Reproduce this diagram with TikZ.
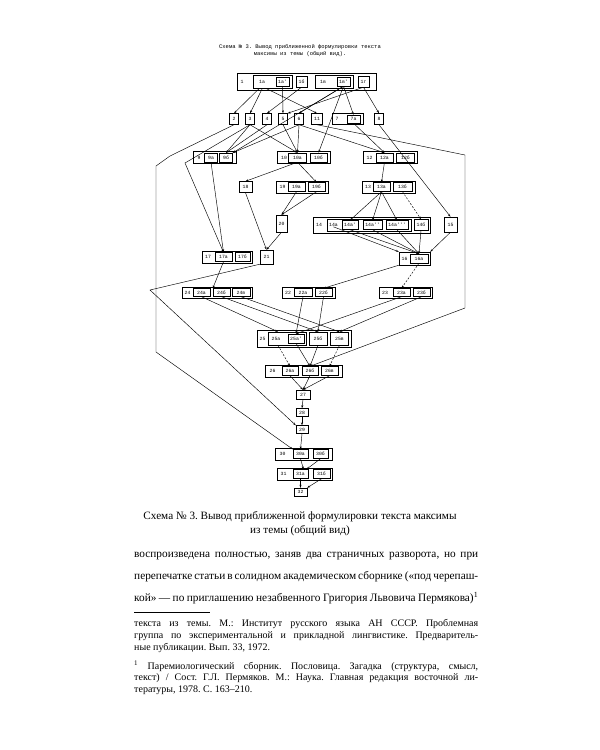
\documentclass[tikz,border=0pt]{standalone}
\usepackage{fontspec}
\setmainfont{Liberation Serif}
\newfontfamily\tw{Liberation Mono}
\usetikzlibrary{arrows.meta}
\newcommand\lab{\tw\fontsize{4.8}{5}\selectfont}
\frenchspacing
\begin{document}
\begin{tikzpicture}[x=1pt,y=-1pt,line width=0.45pt,
  sb/.style={draw, inner sep=0pt, font=\lab, minimum height=9pt},
  ob/.style={draw, inner sep=0pt, minimum height=12pt},
  lb/.style={inner sep=0pt, font=\lab},
  ar/.style={-{Stealth[length=3pt,width=2pt]}},
  dsh/.style={dash pattern=on 2pt off 1.5pt},
  body/.style={anchor=west, inner sep=0pt, font=\fontsize{11.3}{13}\selectfont},
  foot/.style={anchor=west, inner sep=0pt, font=\fontsize{10}{11}\selectfont}]
\useasboundingbox (0,0) rectangle (600,750);
\fill[white] (0,0) rectangle (600,750);

% header
\node[font=\tw\fontsize{5.5}{7}\selectfont, align=center, inner sep=0pt] (hdr) at (300,50.5)
  {Схема № 3. Вывод приближенной формулировки текста\\максимы из темы (общий вид).};

% box 1
\node[ob, minimum width=139pt, minimum height=17pt] (n1) at (306.5,81.5) {};
\node[lb] (l1) at (242,81.5) {1};
\node[sb, minimum width=39pt, minimum height=13pt] (n1a) at (272.5,81.5) {};
\node[lb] (l1a) at (262,81.5) {1а};
\node[sb, minimum width=13pt] (n1ap) at (282.5,81.5) {1а'};
\node[sb, minimum width=11pt, minimum height=11pt] (n1b) at (301.5,81.5) {1б};
\node[sb, minimum width=38pt, minimum height=13pt] (n1v) at (334,81.5) {};
\node[lb] (l1v) at (323,81.5) {1в};
\node[sb, minimum width=13pt] (n1vp) at (343.5,81.5) {1в'};
\node[sb, minimum width=11pt, minimum height=11pt] (n1g) at (363.5,81.5) {1г};

% row 2
\node[sb, minimum width=9pt, minimum height=11pt] (n2) at (234,119) {2};
\node[sb, minimum width=9pt, minimum height=11pt] (n3) at (250,119) {3};
\node[sb, minimum width=9pt, minimum height=11pt] (n4) at (267,119) {4};
\node[sb, minimum width=9pt, minimum height=11pt] (n5) at (283,119) {5};
\node[sb, minimum width=9pt, minimum height=11pt] (n6) at (299,119) {6};
\node[sb, minimum width=11pt, minimum height=11pt] (n11) at (317,119) {11};
\node[sb, minimum width=31pt, minimum height=11pt] (n7) at (347.5,119) {};
\node[lb] (l7) at (337,119) {7};
\node[sb, minimum width=13pt, minimum height=8pt] (n7a) at (353.5,119) {7а};
\node[sb, minimum width=9pt, minimum height=11pt] (n8) at (379,119) {8};

% row 3
\node[ob, minimum width=43pt] (n9) at (214.5,157.5) {};
\node[lb] (l9) at (199,157.5) {9};
\node[sb, minimum width=13pt] (n9a) at (211,157.5) {9а};
\node[sb, minimum width=13pt] (n9b) at (226,157.5) {9б};
\node[ob, minimum width=53pt] (n10) at (303.5,157.5) {};
\node[lb] (l10) at (284,157.5) {10};
\node[sb, minimum width=18pt] (n10a) at (297.5,157.5) {10а};
\node[sb, minimum width=17pt] (n10b) at (318.5,157.5) {10б};
\node[ob, minimum width=54pt] (n12) at (390,157.5) {};
\node[lb] (l12) at (369.5,157.5) {12};
\node[sb, minimum width=17pt] (n12a) at (384.5,157.5) {12а};
\node[sb, minimum width=18pt] (n12b) at (405.5,157.5) {12б};

% row 4
\node[sb, minimum width=13pt, minimum height=11pt] (n18) at (245.5,187) {18};
\node[ob, minimum width=52pt] (n19) at (302,187) {};
\node[lb] (l19) at (282.5,187) {19};
\node[sb, minimum width=17pt] (n19a) at (296.5,187) {19а};
\node[sb, minimum width=17pt] (n19b) at (316.5,187) {19б};
\node[ob, minimum width=53pt] (n13) at (388.5,187) {};
\node[lb] (l13) at (368,187) {13};
\node[sb, minimum width=17pt] (n13a) at (381.5,187) {13а};
\node[sb, minimum width=19pt] (n13b) at (402.5,187) {13б};

% row 5
\node[sb, minimum width=11pt, minimum height=17pt] (n20) at (281.5,223.5) {20};
\node[ob, minimum width=117pt, minimum height=16pt] (n14) at (371.5,225) {};
\node[lb] (l14) at (319,225) {14};
\node[sb, minimum width=84pt, minimum height=12pt] (n14grp) at (369,225) {};
\node[lb] (l14a) at (333.5,225) {14а};
\node[sb, minimum width=16pt] (n14a1) at (350,225) {14а'};
\node[sb, minimum width=19pt] (n14a2) at (372.5,225) {14а''};
\node[sb, minimum width=22pt] (n14a3) at (397,225) {14а'''};
\node[sb, minimum width=14pt, minimum height=11pt] (n14b) at (421,225) {14б};
\node[sb, minimum width=13pt, minimum height=15pt] (n15) at (450.5,224.5) {15};

% row 6
\node[ob, minimum width=50pt] (n17) at (227,257) {};
\node[lb] (l17) at (208,257) {17};
\node[sb, minimum width=17pt] (n17a) at (223.5,257) {17а};
\node[sb, minimum width=15pt] (n17b) at (242.5,257) {17б};
\node[sb, minimum width=13pt, minimum height=14pt] (n21) at (266.5,257) {21};
\node[ob, minimum width=31pt, minimum height=13pt] (n16) at (414.5,258.5) {};
\node[lb] (l16) at (404.5,258.5) {16};
\node[sb, minimum width=18pt] (n16a) at (419,258.5) {16а};

% row 7
\node[ob, minimum width=70pt, minimum height=11pt] (n24) at (217,292.5) {};
\node[lb] (l24) at (187.5,292.5) {24};
\node[sb, minimum width=17pt, minimum height=8pt] (n24a) at (201.5,292.5) {24а};
\node[sb, minimum width=17pt, minimum height=8pt] (n24b) at (221.5,292.5) {24б};
\node[sb, minimum width=18pt, minimum height=8pt] (n24c) at (241,292.5) {24в};
\node[ob, minimum width=53pt, minimum height=11pt] (n22) at (308.5,292.5) {};
\node[lb] (l22) at (288,292.5) {22};
\node[sb, minimum width=18pt, minimum height=8pt] (n22a) at (303,292.5) {22а};
\node[sb, minimum width=17pt, minimum height=8pt] (n22b) at (323.5,292.5) {22б};
\node[ob, minimum width=53pt, minimum height=11pt] (n23) at (405.5,292.5) {};
\node[lb] (l23) at (385,292.5) {23};
\node[sb, minimum width=17pt, minimum height=8pt] (n23a) at (401.5,292.5) {23а};
\node[sb, minimum width=17pt, minimum height=8pt] (n23b) at (421.5,292.5) {23б};

% row 8
\node[ob, minimum width=94pt, minimum height=17pt] (n25) at (304,338.5) {};
\node[lb] (l25) at (262.5,338.5) {25};
\node[sb, minimum width=38pt, minimum height=13pt] (n25a) at (287,338.5) {};
\node[lb] (l25a) at (276,338.5) {25а};
\node[sb, minimum width=16pt] (n25ap) at (296,338.5) {25а'};
\node[sb, minimum width=18pt, minimum height=13pt] (n25b) at (318,338.5) {25б};
\node[sb, minimum width=18pt, minimum height=13pt] (n25v) at (339.5,338.5) {25в};

% row 9
\node[ob, minimum width=77pt] (n26) at (303.5,371) {};
\node[lb] (l26) at (272.5,371) {26};
\node[sb, minimum width=16pt] (n26a) at (290,371) {26а};
\node[sb, minimum width=16pt] (n26b) at (310,371) {26б};
\node[sb, minimum width=17pt] (n26c) at (329.5,371) {26в};

\node[sb, minimum width=14pt] (n27) at (303,394.5) {27};
\node[sb, minimum width=12pt, minimum height=8pt] (n28) at (302,412.5) {28};
\node[sb, minimum width=12pt, minimum height=8pt] (n29) at (302,429.5) {29};
\node[ob, minimum width=57pt] (n30) at (303.5,454) {};
\node[lb] (l30) at (282.5,454) {30};
\node[sb, minimum width=15pt] (n30a) at (300.5,454) {30а};
\node[sb, minimum width=15pt] (n30b) at (320.5,454) {30б};
\node[ob, minimum width=55pt] (n31) at (304.5,474) {};
\node[lb] (l31) at (283.5,474) {31};
\node[sb, minimum width=15pt] (n31a) at (300.5,474) {31а};
\node[sb, minimum width=17pt] (n31b) at (321.5,474) {31б};
\node[sb, minimum width=13pt, minimum height=8pt] (n32) at (300.5,492) {32};

% bend points
\coordinate (b2a) at (170,156);
\coordinate (b2b) at (156,166);
\coordinate (b2c) at (156,352);
\coordinate (b3) at (185,163);
\coordinate (b11a) at (465,155);
\coordinate (b11b) at (465,308);
\coordinate (b21) at (150,290);

% edges: box 1 -> row 2
\draw[ar] ([xshift=-13pt]n1a.south) -- (n2.north);
\draw[ar] ([xshift=-10pt]n1a.south) -- (n3.north);
\draw[ar] ([xshift=-7pt]n1a.south) -- (n11.north);
\draw[ar] (n1ap.south) -- (n5.north);
\draw[ar] (n1b.south) -- (n4.north);
\draw[ar] (n1vp.south) -- (n6.north);
\draw[ar] (n1vp.south) -- (n7a.north);
\draw[ar] (n1vp.south) -- (n9b.north east);
\draw[ar] (n1vp.south) -- (n10b.north);
\draw[ar] (n1g.south) -- (n5.north east);
\draw[ar] (n1g.south) -- (n8.north);
% row 2 -> row 3 and beyond
\draw[ar] (n2.south) -- (b2a) -- (b2b) -- (b2c) -- (n30a.north west);
\draw[ar] (n3.south) -- (b3) -- (n17a.north);
\draw[ar] (n3.south) -- (n9b.north);
\draw[ar] (n4.south) -- (n9b.north);
\draw[ar] (n6.south) -- (n9b.north east);
\draw[ar] (n3.south) -- (n10a.north);
\draw[ar] (n5.south) -- (n10a.north);
\draw[ar] (n6.south) -- (n10a.north);
\draw[ar] (n6.south) -- (n12a.north);
\draw[ar] (n7a.south) -- (n12a.north);
\draw[ar] (n11.south) -- (b11a) -- (b11b) -- (n26b.north);
\draw[ar] (n8.south) -- (n15.north);
% row 3 -> row 4/5
\draw[ar] (n9a.south) -- (n17a.north);
\draw[ar] (n10a.south) -- (n18.north);
\draw[ar] (n10a.south) -- (n19b.north);
\draw[ar] (n12a.south) -- (n13a.north);
\draw[ar] (n18.south) -- (n21.north);
\draw[ar] (n19a.south) -- (n20.north);
\draw[ar] (n19b.south) -- (n20.north);
\draw[ar] (n20.south) -- (n21.north);
\draw[ar] (n13a.south) -- (n14a1.north);
\draw[ar] (n13a.south) -- (n14a2.north);
\draw[ar] (n13a.south) -- (n14a3.north);
\draw[ar,dsh] (n13b.south) -- (n14b.north);
% row 5 -> 16
\draw[ar] (l14a.south) -- (n16.north west);
\draw[ar] (n14a1.south) -- (n16a.north);
\draw[ar] (n14a2.south) -- (n16a.north);
\draw[ar] (n14a3.south) -- (n16a.north);
\draw[ar] (n14b.south) -- (n16a.north);
\draw[ar] (n15.south) -- (n16.north east);
% row 6 -> row 7
\draw[ar] (n17a.south) -- (n24b.north west);
\draw[ar] (n21.south west) -- (b21) -- (n29.north west);
\draw[ar] (n16.south west) -- (n22b.north);
\draw[ar,dsh] (n16a.south) -- (n23a.north);
% row 7 -> row 8
\draw[ar] (n24a.south) -- ([xshift=-9pt]n25a.north);
\draw[ar] (n24b.south) -- (n25b.north);
\draw[ar] (n24c.south) -- (n25v.north);
\draw[ar] (n22a.south) -- (n25ap.north);
\draw[ar] (n22b.south) -- (n25b.north);
\draw[ar] (n23a.south) -- (n25ap.north);
\draw[ar] (n23b.south) -- (n25v.north);
% row 8 -> row 9
\draw[ar,dsh] ([xshift=-9pt]n25a.south) -- (n26a.north);
\draw[ar] (n25ap.south) -- (n26b.north);
\draw[ar] (n25b.south) -- (n26b.north);
\draw[ar,dsh] (n25v.south) -- (n26c.north);
\draw[ar] (n26a.south) -- (n27.north);
\draw[ar] (n26b.south) -- (n27.north);
\draw[ar] (n26c.south) -- (n27.north);
\draw[ar] (n27.south) -- (n28.north);
\draw[ar] (n28.south) -- (n29.north);
\draw[ar] (n29.south) -- (n30a.north);
\draw[ar] (n30a.south) -- ([xshift=3pt]n31a.north);
\draw[ar] (n30b.south) -- ([xshift=6pt]n31a.north);
\draw[ar] (n31a.south) -- (n32.north);
\draw[ar] (n31b.south) -- (n32.north east);

% caption
\node[font=\fontsize{11.2}{14}\selectfont, align=center, inner sep=0pt] (cap) at (300,524)
  {Схема № 3. Вывод приближенной формулировки текста максимы\\из темы (общий вид)};

% body
\node[body] (b1) at (134,556) {\makebox[344pt][s]{воспроизведена полностью, заняв два страничных разворота, но при}};
\node[body] (b2) at (134,577) {\makebox[344pt][s]{перепечатке статьи в солидном академическом сборнике («под черепаш-}};
\node[body] (b3) at (134,598) {\makebox[344pt][s]{кой» — по приглашению незабвенного Григория Львовича Пермякова)\textsuperscript{1}}};

% footnote rule
\draw[line width=0.5pt] (134,612) -- (210,612);

% footnotes
\node[foot] (f1) at (134,624) {\makebox[344pt][s]{текста из темы. М.: Институт русского языка АН СССР. Проблемная}};
\node[foot] (f2) at (134,636) {\makebox[344pt][s]{группа по экспериментальной и прикладной лингвистике. Предваритель-}};
\node[foot] (f3) at (134,648) {ные публикации. Вып. 33, 1972.};
\node[foot] (f4) at (134,666) {\makebox[344pt][s]{\textsuperscript{1}\ Паремиологический сборник. Пословица. Загадка (структура, смысл,}};
\node[foot] (f5) at (134,678) {\makebox[344pt][s]{текст) / Сост. Г.Л. Пермяков. М.: Наука. Главная редакция восточной ли-}};
\node[foot] (f6) at (134,690) {тературы, 1978. С. 163–210.};
\end{tikzpicture}
\end{document}
